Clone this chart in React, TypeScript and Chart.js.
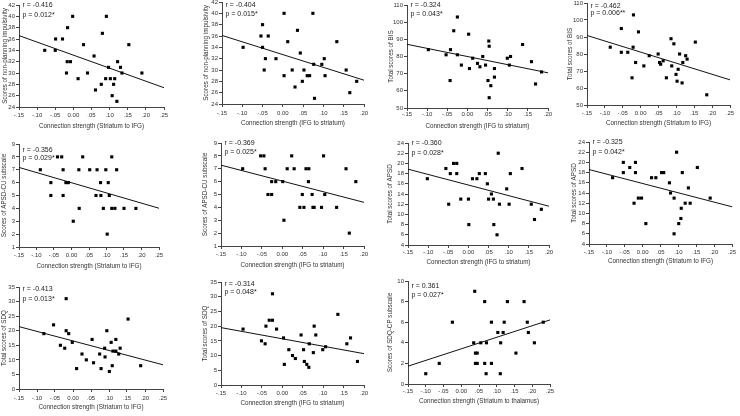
import React, { useEffect, useRef } from "react";
import { Chart, registerables } from "chart.js";

Chart.register(...registerables);

const FONT = "'Liberation Sans', Arial, Helvetica, sans-serif";

// ---------- tick labels ----------
const xTicksTo25 = [-0.15, -0.1, -0.05, 0, 0.05, 0.1, 0.15, 0.2, 0.25];
const xLabelsTo25 = ["-.15", "-.10", "-.05", "0.00", ".05", ".10", ".15", ".20", ".25"];
const xTicksTo20 = [-0.15, -0.1, -0.05, 0, 0.05, 0.1, 0.15, 0.2];
const xLabelsTo20 = ["-.15", "-.10", "-.05", "0.00", ".05", ".10", ".15", ".20"];
const yTicksImp = [24, 26, 28, 30, 32, 34, 36, 38, 40, 42];
const yTicksBis = [50, 60, 70, 80, 90, 100, 110];
const yTicksCu = [1, 2, 3, 4, 5, 6, 7, 8, 9];
const yTicksApsd = [4, 6, 8, 10, 12, 14, 16, 18, 20, 22, 24];
const yTicksSdq = [0, 5, 10, 15, 20, 25, 30, 35];
const yTicksCp = [0, 2, 4, 6, 8, 10];

// ---------- data ----------
// 1. non-planning impulsivity vs Striatum -> IFG
const impS2iX = [-0.002, 0.091, -0.016, 0.080, -0.049, -0.030, 0.028, 0.153, -0.079, -0.050, 0.057, -0.017, -0.008, 0.122, 0.097, 0.130, -0.019, 0.039, 0.134, 0.189, 0.013, 0.089, 0.102, 0.114, 0.077, 0.111, 0.061, 0.107, 0.120];
const impS2iY = [40, 40, 38, 37, 36, 36, 35, 35, 34, 34, 33, 32, 32, 32, 31, 31, 30, 30, 30, 30, 29, 29, 29, 29, 28, 28, 27, 26, 25];
const impS2iFit = [36.6, 27.4];

// 2. non-planning impulsivity vs IFG -> striatum
const impI2sX = [0.003, 0.074, -0.050, 0.036, -0.054, -0.036, 0.012, 0.133, -0.098, -0.050, 0.043, -0.043, -0.017, 0.102, 0.076, 0.096, -0.046, 0.023, 0.052, 0.156, 0.003, 0.060, 0.066, 0.104, 0.048, 0.182, 0.030, 0.165, 0.078];
const impI2sY = [40, 40, 38, 37, 36, 36, 35, 35, 34, 34, 33, 32, 32, 32, 31, 31, 30, 30, 30, 30, 29, 29, 29, 29, 28, 28, 27, 26, 25];
const impI2sFit = [36.1, 28.2];

// 3. BIS vs IFG -> striatum
const bisI2sX = [-0.025, -0.034, 0.003, 0.053, 0.054, 0.137, -0.097, -0.042, -0.053, -0.025, 0.038, 0.107, 0.013, 0.099, 0.159, 0.025, -0.015, 0.045, 0.104, 0.031, 0.005, 0.067, 0.184, 0.067, -0.043, 0.051, 0.169, 0.058, 0.054];
const bisI2sY = [103, 95, 93, 89, 86, 87, 84, 84, 81, 81, 80, 80, 79, 79, 77, 76, 75, 75, 75, 74, 73, 73, 71, 68, 66, 66, 64, 63, 56];
const bisI2sFit = [87.1, 70.5];

// 4. BIS vs Striatum -> IFG
const bisS2iX = [-0.020, -0.054, -0.006, 0.085, 0.093, 0.153, -0.085, -0.021, -0.054, -0.036, 0.049, 0.109, 0.024, 0.126, 0.130, 0.063, -0.014, 0.118, 0.053, 0.056, 0.009, 0.087, 0.105, 0.099, -0.024, 0.072, 0.102, 0.116, 0.185];
const bisS2iY = [103, 95, 93, 89, 86, 87, 84, 84, 81, 81, 80, 80, 79, 79, 77, 76, 75, 75, 75, 74, 73, 73, 71, 68, 66, 66, 64, 63, 56];
const bisS2iFit = [90.9, 64.8];

// 5. APSD-CU vs Striatum -> IFG
const cuS2iX = [-0.040, -0.028, 0.032, 0.115, -0.089, -0.024, 0.021, 0.052, 0.073, 0.098, 0.129, -0.059, -0.016, -0.009, 0.083, 0.105, -0.059, -0.024, 0.070, 0.084, 0.108, 0.022, 0.091, 0.115, 0.124, 0.150, 0.184, 0.005, 0.102];
const cuS2iY = [8, 8, 8, 8, 7, 7, 7, 7, 7, 7, 7, 6, 6, 6, 6, 6, 5, 5, 5, 5, 5, 4, 4, 4, 4, 4, 4, 3, 2];
const cuS2iFit = [7.18, 4.01];

// 6. APSD-CU vs IFG -> striatum
const cuI2sX = [-0.053, -0.045, 0.023, 0.101, -0.097, -0.042, 0.012, 0.029, 0.058, 0.065, 0.156, -0.026, -0.016, 0.001, 0.064, 0.180, -0.035, -0.026, 0.049, 0.073, 0.104, 0.043, 0.053, 0.075, 0.078, 0.096, 0.133, 0.004, 0.164];
const cuI2sY = [8, 8, 8, 8, 7, 7, 7, 7, 7, 7, 7, 6, 6, 6, 6, 6, 5, 5, 5, 5, 5, 4, 4, 4, 4, 4, 4, 3, 2];
const cuI2sFit = [7.28, 4.39];

// 7. APSD total vs IFG -> striatum
const apsdI2sX = [0.074, -0.037, -0.029, -0.056, 0.133, -0.045, -0.029, 0.027, 0.042, 0.104, -0.102, 0.010, 0.021, 0.047, 0.095, 0.057, -0.019, 0.000, 0.050, 0.062, -0.049, 0.077, 0.101, 0.156, 0.181, 0.164, 0.001, 0.063, 0.071];
const apsdI2sY = [22, 20, 20, 19, 19, 18, 18, 18, 18, 18, 17, 17, 17, 16, 15, 14, 13, 13, 13, 13, 12, 12, 12, 12, 11, 9, 8, 8, 6];
const apsdI2sFit = [18.87, 11.6];

// 8. APSD total vs Striatum -> IFG
const apsdS2iX = [0.095, -0.054, -0.020, -0.036, 0.153, -0.054, -0.020, 0.053, 0.059, 0.111, -0.084, 0.025, 0.037, 0.075, 0.128, 0.078, -0.012, -0.003, 0.088, 0.189, -0.024, 0.119, 0.133, 0.108, 0.107, 0.009, 0.101, 0.088];
const apsdS2iY = [22, 20, 20, 19, 19, 18, 18, 18, 18, 18, 17, 17, 17, 16, 15, 14, 13, 13, 13, 13, 12, 12, 12, 11, 9, 8, 8, 6];
const apsdS2iFit = [18.6, 11.3];

// 9. SDQ total vs Striatum -> IFG
const sdqS2iX = [-0.019, 0.153, -0.054, -0.019, 0.094, -0.081, -0.012, 0.053, 0.119, -0.002, 0.106, -0.035, -0.023, 0.088, 0.131, 0.111, 0.119, 0.025, 0.074, 0.127, 0.089, 0.037, 0.057, 0.109, 0.188, 0.010, 0.078, 0.101];
const sdqS2iY = [31, 24, 22, 20, 20, 19, 19, 17, 17, 16, 16, 15, 14, 14, 14, 13, 13, 12, 12, 12, 11, 10, 9, 8, 8, 7, 7, 6];
const sdqS2iFit = [21.4, 8.3];

// 10. SDQ total vs IFG -> striatum
const sdqI2sX = [-0.024, 0.136, -0.032, -0.024, -0.040, 0.078, -0.096, -0.014, 0.046, 0.082, 0.003, 0.167, -0.051, -0.042, 0.066, 0.158, 0.106, 0.016, 0.052, 0.099, 0.076, 0.025, 0.032, 0.054, 0.184, 0.005, 0.060, 0.065];
const sdqI2sY = [31, 24, 22, 22, 20, 20, 19, 19, 17, 17, 16, 16, 15, 14, 14, 14, 13, 12, 12, 12, 11, 10, 9, 8, 8, 7, 7, 6];
const sdqI2sFit = [19.5, 10.65];

// 11. SDQ-CP vs Striatum -> thalamus
const cpS2tX = [0.038, 0.066, 0.130, 0.177, -0.025, 0.085, 0.121, 0.186, 0.231, 0.103, 0.118, 0.189, 0.035, 0.055, 0.071, 0.111, 0.206, 0.040, 0.045, 0.154, -0.062, 0.040, 0.045, 0.066, 0.085, -0.100, 0.070, 0.110];
const cpS2tY = [9, 8, 8, 8, 6, 6, 6, 6, 6, 5, 5, 5, 4, 4, 4, 4, 4, 3, 3, 3, 2, 2, 2, 2, 2, 1, 1, 1];
const cpS2tFit = [1.73, 6.22];

// ---------- text ----------
const xTitleS2I = "Connection strength (Striatum to IFG)";
const xTitleI2S = "Connection strength (IFG to striatum)";
const xTitleS2T = "Connection strength (Striatum to thalamus)";

type Box = { L: number; T: number; R: number; B: number; tickY: number; titleY: number; yTitleX: number; rY: number; pY: number };
type Panel = {
  xs: number[]; ys: number[]; fit: number[];
  xTicks: number[]; xLabels: string[]; yTicks: number[];
  xTitle: string; yTitle: string; r: string; p: string; box: Box;
};

const panels: Panel[] = [
  { xs: impS2iX, ys: impS2iY, fit: impS2iFit, xTicks: xTicksTo25, xLabels: xLabelsTo25, yTicks: yTicksImp, xTitle: xTitleS2I, yTitle: "Scores of non-planning impulsivity", r: "r = -0.416", p: "p = 0.012*",
    box: { L: 19, T: 5, R: 164, B: 107, tickY: 115, titleY: 126, yTitleX: 5, rY: 0.5, pY: 10 } },
  { xs: impI2sX, ys: impI2sY, fit: impI2sFit, xTicks: xTicksTo20, xLabels: xLabelsTo20, yTicks: yTicksImp, xTitle: xTitleI2S, yTitle: "Scores of non-planning impulsivity", r: "r = -0.404", p: "p = 0.015*",
    box: { L: 222, T: 2, R: 364, B: 104, tickY: 113, titleY: 123, yTitleX: 206, rY: 3, pY: 12 } },
  { xs: bisI2sX, ys: bisI2sY, fit: bisI2sFit, xTicks: xTicksTo20, xLabels: xLabelsTo20, yTicks: yTicksBis, xTitle: xTitleI2S, yTitle: "Total scores of BIS", r: "r = -0.324", p: "p = 0.043*",
    box: { L: 407, T: 5, R: 548, B: 108, tickY: 114, titleY: 126, yTitleX: 391, rY: 0, pY: 9.5 } },
  { xs: bisS2iX, ys: bisS2iY, fit: bisS2iFit, xTicks: xTicksTo25, xLabels: xLabelsTo25, yTicks: yTicksBis, xTitle: xTitleS2I, yTitle: "Total scores of BIS", r: "r = -0.462", p: "p = 0.006**",
    box: { L: 587, T: 3, R: 730, B: 105, tickY: 113, titleY: 123, yTitleX: 570, rY: 3, pY: 10.5 } },
  { xs: cuS2iX, ys: cuS2iY, fit: cuS2iFit, xTicks: xTicksTo25, xLabels: xLabelsTo25, yTicks: yTicksCu, xTitle: xTitleS2I, yTitle: "Scores of APSD-CU subscale", r: "r = -0.356", p: "p = 0.029*",
    box: { L: 19, T: 144, R: 159, B: 247, tickY: 255, titleY: 266, yTitleX: 4, rY: 6, pY: 14 } },
  { xs: cuI2sX, ys: cuI2sY, fit: cuI2sFit, xTicks: xTicksTo20, xLabels: xLabelsTo20, yTicks: yTicksCu, xTitle: xTitleI2S, yTitle: "Scores of APSD-CU subscale", r: "r = -0.369", p: "p = 0.025*",
    box: { L: 221, T: 143, R: 364, B: 246, tickY: 254, titleY: 265, yTitleX: 205, rY: 0, pY: 9 } },
  { xs: apsdI2sX, ys: apsdI2sY, fit: apsdI2sFit, xTicks: xTicksTo20, xLabels: xLabelsTo20, yTicks: yTicksApsd, xTitle: xTitleI2S, yTitle: "Total scores of APSD", r: "r = -0.360", p: "p = 0.028*",
    box: { L: 408, T: 143, R: 549, B: 245, tickY: 252, titleY: 262, yTitleX: 390, rY: 0, pY: 9.7 } },
  { xs: apsdS2iX, ys: apsdS2iY, fit: apsdS2iFit, xTicks: xTicksTo25, xLabels: xLabelsTo25, yTicks: yTicksApsd, xTitle: xTitleS2I, yTitle: "Total scores of APSD", r: "r = -0.325", p: "p = 0.042*",
    box: { L: 589, T: 142, R: 732, B: 244, tickY: 252, titleY: 261, yTitleX: 574, rY: 0, pY: 10 } },
  { xs: sdqS2iX, ys: sdqS2iY, fit: sdqS2iFit, xTicks: xTicksTo25, xLabels: xLabelsTo25, yTicks: yTicksSdq, xTitle: xTitleS2I, yTitle: "Total scores of SDQ", r: "r = -0.413", p: "p = 0.013*",
    box: { L: 19, T: 287, R: 163, B: 389, tickY: 398, titleY: 407, yTitleX: 4, rY: 2.3, pY: 11.7 } },
  { xs: sdqI2sX, ys: sdqI2sY, fit: sdqI2sFit, xTicks: xTicksTo20, xLabels: xLabelsTo20, yTicks: yTicksSdq, xTitle: xTitleI2S, yTitle: "Total scores of SDQ", r: "r = -0.314", p: "p = 0.048*",
    box: { L: 221, T: 282, R: 364, B: 385, tickY: 393, titleY: 403, yTitleX: 205, rY: 1.7, pY: 9.7 } },
  { xs: cpS2tX, ys: cpS2tY, fit: cpS2tFit, xTicks: xTicksTo25, xLabels: xLabelsTo25, yTicks: yTicksCp, xTitle: xTitleS2T, yTitle: "Scores of SDQ-CP subscale", r: "r = 0.361", p: "p = 0.027*",
    box: { L: 408, T: 281, R: 550, B: 384, tickY: 391, titleY: 401, yTitleX: 390, rY: 4.7, pY: 13.7 } },
];

// ---------- style ----------
const TICK_FS = 6;
const TITLE_FS = 6.3;
const NOTE_FS = 7;
const LH = 1.2;
const PAD_TOP = 6;
const PAD_RIGHT = 8;
const TICK_LEN = 3;
const AXIS_COLOR = "#444";
const TEXT_COLOR = "#333";

function geometry(b: Box) {
  const left = Math.round(b.yTitleX - (TITLE_FS * LH) / 2);
  const top = b.T - PAD_TOP;
  const yW = b.L - left;
  const xH = b.titleY - b.B + (TITLE_FS * LH) / 2;
  const w = Math.ceil(yW + (b.R - b.L) + PAD_RIGHT);
  const h = Math.ceil(PAD_TOP + (b.B - b.T) + xH);
  const padRight = w - yW - (b.R - b.L);
  const padBottom = h - PAD_TOP - (b.B - b.T) - xH;
  const xTickPad = b.tickY - b.B - TICK_LEN - (TICK_FS * LH) / 2;
  return { left, top, yW, xH, w, h, padRight, padBottom, xTickPad };
}

const notePlugin = {
  id: "note",
  afterDraw(chart: any, _args: any, opts: any) {
    const { ctx, chartArea } = chart;
    ctx.save();
    ctx.font = `${NOTE_FS}px ${FONT}`;
    ctx.fillStyle = "#222";
    ctx.textBaseline = "middle";
    ctx.textAlign = "left";
    ctx.fillText(opts.r, chartArea.left + 3.5, chartArea.top + opts.rY);
    ctx.fillText(opts.p, chartArea.left + 3.5, chartArea.top + opts.pY);
    ctx.restore();
  },
};

function zeroPad(s: any) {
  s.paddingLeft = 0;
  s.paddingRight = 0;
  s.paddingTop = 0;
  s.paddingBottom = 0;
}

function ScatterPanel({ panel }: { panel: Panel }) {
  const ref = useRef<HTMLCanvasElement>(null);
  const g = geometry(panel.box);

  useEffect(() => {
    const canvas = ref.current;
    if (!canvas) return;
    const points = panel.xs.map((x, i) => ({ x, y: panel.ys[i] }));
    const xMin = panel.xTicks[0];
    const xMax = panel.xTicks[panel.xTicks.length - 1];
    const yMin = panel.yTicks[0];
    const yMax = panel.yTicks[panel.yTicks.length - 1];
    const fitLine = [
      { x: xMin, y: panel.fit[0] },
      { x: xMax, y: panel.fit[1] },
    ];
    const chart = new Chart(canvas, {
      type: "scatter",
      data: {
        datasets: [
          {
            data: points,
            pointStyle: "rect",
            pointRadius: 2.2,
            pointHoverRadius: 2.2,
            backgroundColor: "#000",
            borderColor: "#000",
            borderWidth: 0,
          },
          {
            data: fitLine,
            showLine: true,
            borderColor: "#111",
            borderWidth: 1,
            pointRadius: 0,
            fill: false,
          } as any,
        ],
      },
      options: {
        animation: false,
        responsive: false,
        devicePixelRatio: 1,
        events: [],
        layout: { padding: { top: PAD_TOP, right: g.padRight, left: 0, bottom: g.padBottom } },
        plugins: {
          legend: { display: false },
          tooltip: { enabled: false },
          note: { r: panel.r, p: panel.p, rY: panel.box.rY, pY: panel.box.pY },
        } as any,
        scales: {
          x: {
            type: "linear",
            min: xMin,
            max: xMax,
            afterBuildTicks: (s: any) => {
              s.ticks = panel.xTicks.map((v) => ({ value: v }));
            },
            afterFit: (s: any) => {
              s.height = g.xH;
              zeroPad(s);
            },
            ticks: {
              autoSkip: false,
              maxRotation: 0,
              minRotation: 0,
              padding: g.xTickPad,
              color: TEXT_COLOR,
              font: { size: TICK_FS, family: FONT },
              callback: (_v: any, i: number) => panel.xLabels[i],
            },
            grid: { drawOnChartArea: false, drawTicks: true, tickLength: TICK_LEN, color: AXIS_COLOR },
            border: { display: true, color: AXIS_COLOR, width: 1 },
            title: {
              display: true,
              text: panel.xTitle,
              color: TEXT_COLOR,
              padding: 0,
              font: { size: TITLE_FS, family: FONT },
            },
          },
          y: {
            type: "linear",
            min: yMin,
            max: yMax,
            afterBuildTicks: (s: any) => {
              s.ticks = panel.yTicks.map((v) => ({ value: v }));
            },
            afterFit: (s: any) => {
              s.width = g.yW;
              zeroPad(s);
            },
            ticks: {
              autoSkip: false,
              padding: 1,
              color: TEXT_COLOR,
              font: { size: TICK_FS, family: FONT },
              callback: (v: any) => String(v),
            },
            grid: { drawOnChartArea: false, drawTicks: true, tickLength: TICK_LEN, color: AXIS_COLOR },
            border: { display: true, color: AXIS_COLOR, width: 1 },
            title: {
              display: true,
              text: panel.yTitle,
              color: TEXT_COLOR,
              padding: 0,
              font: { size: TITLE_FS, family: FONT },
            },
          },
        },
      },
      plugins: [notePlugin as any],
    });
    return () => chart.destroy();
  }, []);

  return (
    <canvas
      ref={ref}
      width={g.w}
      height={g.h}
      style={{ position: "absolute", left: g.left, top: g.top, width: g.w, height: g.h, display: "block" }}
    />
  );
}

export default function App() {
  return (
    <div
      style={{
        position: "fixed",
        left: 0,
        top: 0,
        width: 740,
        height: 416,
        background: "#fff",
        overflow: "hidden",
      }}
    >
      {panels.map((p, i) => (
        <ScatterPanel key={i} panel={p} />
      ))}
    </div>
  );
}
